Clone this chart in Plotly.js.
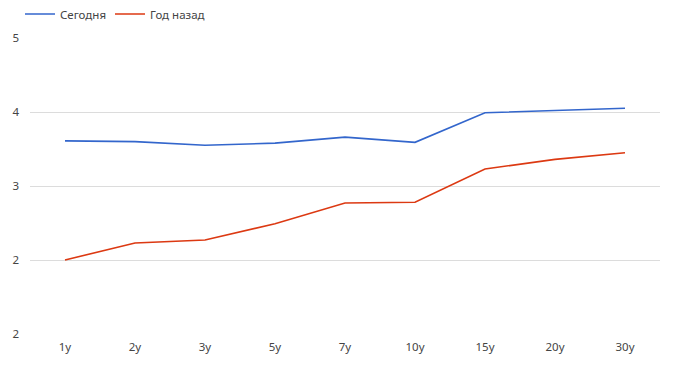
<!DOCTYPE html>
<html><head><meta charset="utf-8">
<script src="https://cdn.plot.ly/plotly-3.0.1.min.js"></script>
<style>html,body{margin:0;padding:0;background:#fff}#chart{width:690px;height:379px}</style>
</head><body><div id="chart"></div>
<script>
const categories = ['1y','2y','3y','5y','7y','10y','15y','20y','30y'];
const today = [3.61, 3.60, 3.55, 3.58, 3.66, 3.59, 3.99, 4.02, 4.05];
const yearAgo = [2.00, 2.23, 2.27, 2.49, 2.77, 2.78, 3.23, 3.36, 3.45];
const yTickVals = [1, 2, 3, 4, 5];
const yTickText = ['2', '2', '3', '4', '5'];
const seriesNames = ['Сегодня', 'Год назад'];

const font = {family: '"Noto Sans", "Open Sans", sans-serif', size: 11.5, color: '#444'};
const data = [
  {x: categories, y: today, name: seriesNames[0], type: 'scatter', mode: 'lines', line: {color: '#3366cc', width: 1.6}, legend: 'legend'},
  {x: categories, y: yearAgo, name: seriesNames[1], type: 'scatter', mode: 'lines', line: {color: '#dc3912', width: 1.6}, legend: 'legend2'}
];
const legendBase = {orientation: 'h', xanchor: 'left', y: 1 + 24/296, yanchor: 'middle', font: font, bgcolor: 'rgba(0,0,0,0)'};
const layout = {
  width: 690, height: 379,
  margin: {l: 30, r: 30, t: 38, b: 45, autoexpand: false},
  paper_bgcolor: '#fff', plot_bgcolor: '#fff',
  font: font,
  showlegend: true,
  legend: Object.assign({}, legendBase, {x: -10/630}),
  legend2: Object.assign({}, legendBase, {x: 80/630}),
  xaxis: {type: 'category', range: [-0.5, categories.length - 0.5], showgrid: false, zeroline: false, showline: false, ticks: '', tickfont: font, ticklabelstandoff: 4, fixedrange: true},
  yaxis: {range: [1, 5], tickvals: yTickVals, ticktext: yTickText, showgrid: true, gridcolor: '#dcdcdc', gridwidth: 1, zeroline: false, showline: false, ticks: '', tickfont: font, ticklabelstandoff: 10}
};
Plotly.newPlot('chart', data, layout, {displayModeBar: false, staticPlot: true});
</script></body></html>
